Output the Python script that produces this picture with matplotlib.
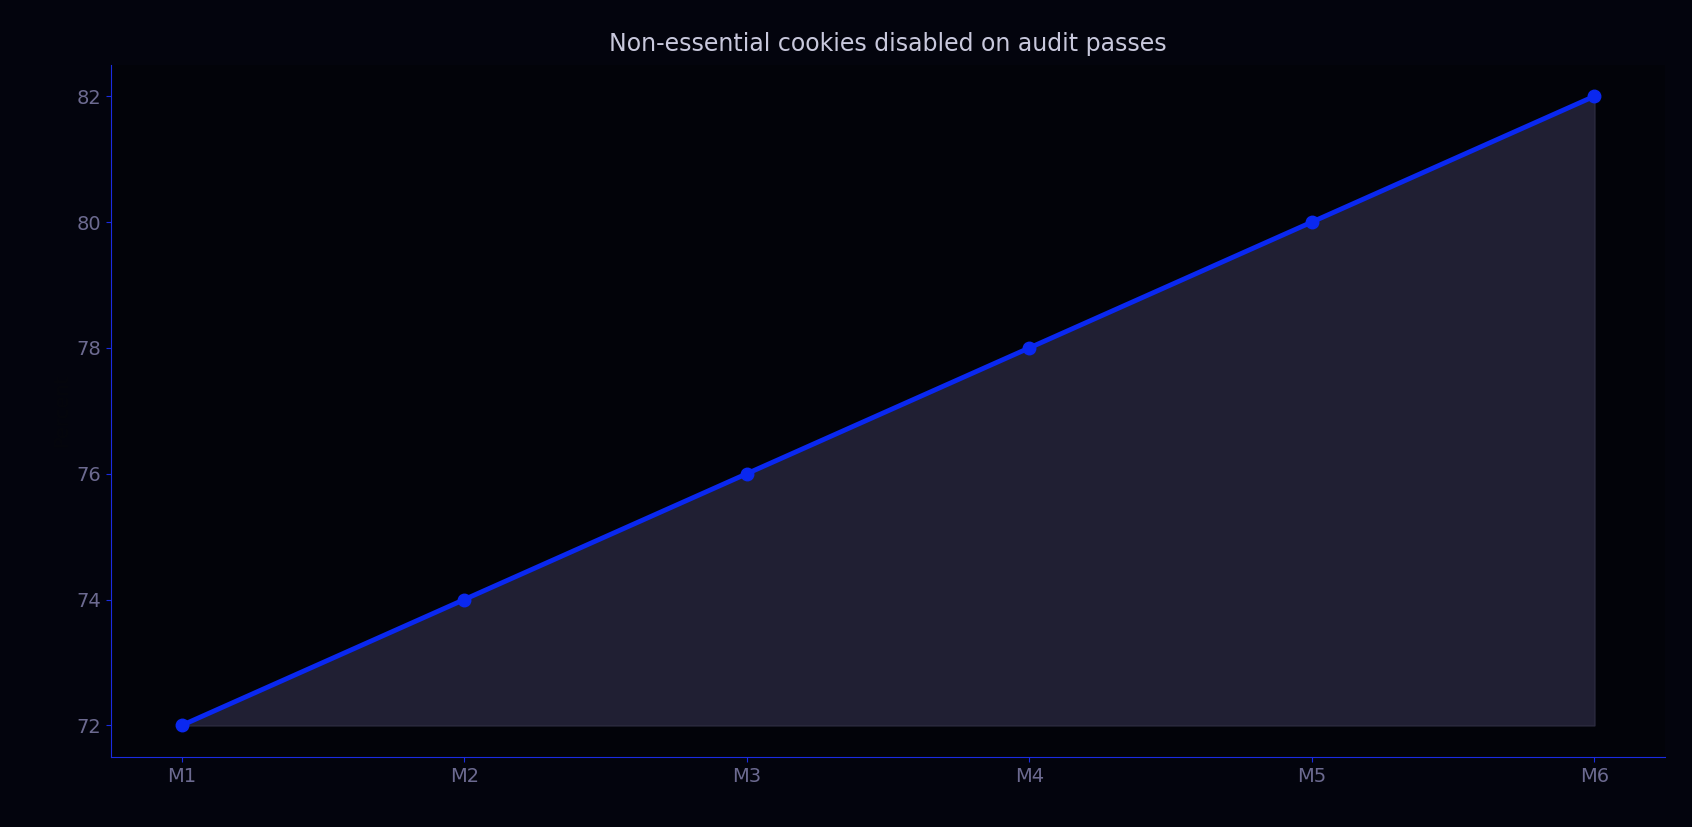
import matplotlib.pyplot as plt

months = ["M1", "M2", "M3", "M4", "M5", "M6"]
values = [72, 74, 76, 78, 80, 82]

bg = "#03040d"
fig = plt.figure(figsize=(16.92, 8.27), dpi=100, facecolor=bg)
# axes box measured on the reference (1568x766 preview)
ax = fig.add_axes([103/1568, 65/766, 1440/1568, 641/766], facecolor="#020309")

x = range(len(months))
ax.fill_between(x, values, min(values), color="#201f33", edgecolor="#2c2b40", linewidth=1)
ax.plot(x, values, color="#0a28f0", linewidth=3.5, marker="o", markersize=9)

ax.set_xticks(list(x))
ax.set_xticklabels(months)
ax.set_yticks([72, 74, 76, 78, 80, 82])
ax.set_xlim(-0.25, 5.25)
ax.set_ylim(71.5, 82.5)
ax.tick_params(colors="#1a2be0", labelcolor="#6c6a90", labelsize=14)
for s in ["top", "right"]:
    ax.spines[s].set_visible(False)
for s in ["left", "bottom"]:
    ax.spines[s].set_color("#1a2be0")
ax.set_ylabel("Percent", color="#05060c", fontsize=14)
ax.set_title("Non-essential cookies disabled on audit passes", color="#c8c8dc", fontsize=17, pad=10)

fig.savefig("out.png", dpi=100, facecolor=bg)
